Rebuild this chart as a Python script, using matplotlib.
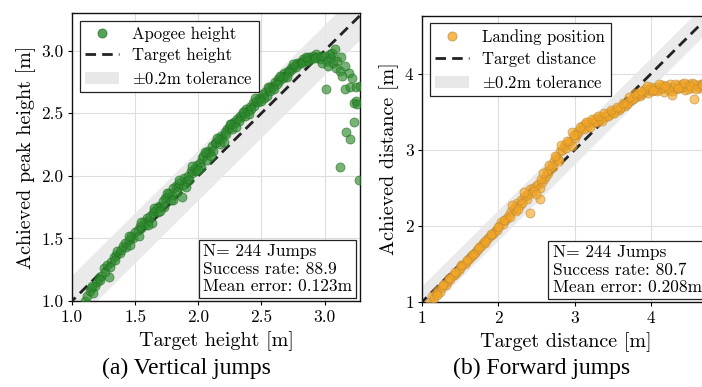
import matplotlib
matplotlib.use("Agg")
import matplotlib.pyplot as plt
from matplotlib.patches import Patch
from matplotlib.lines import Line2D

plt.rcParams['font.family'] = 'serif'
plt.rcParams['font.serif'] = ['cmr10']
plt.rcParams['mathtext.fontset'] = 'cm'
plt.rcParams['axes.formatter.use_mathtext'] = True

# ---------------- Vertical jumps data ----------------
v_target = [
    1.10, 1.12, 1.14, 1.15, 1.17, 1.18, 1.20, 1.21, 1.23, 1.25, 1.26, 1.28, 1.29, 1.31, 1.33, 1.35, 1.36, 1.38, 1.40, 1.42, 1.43, 1.45, 1.47, 1.48, 1.50,
    1.52, 1.54, 1.55, 1.57, 1.59, 1.60, 1.62, 1.64, 1.65, 1.67, 1.69, 1.70, 1.72, 1.74, 1.75, 1.77, 1.79, 1.80, 1.82, 1.84, 1.85, 1.87, 1.89, 1.90, 1.92, 1.94, 1.95, 1.97, 1.99,
    2.01, 2.03, 2.04, 2.06, 2.08, 2.09, 2.11, 2.13, 2.14, 2.16, 2.18, 2.19, 2.21, 2.23, 2.24, 2.26, 2.28, 2.29, 2.31, 2.33, 2.34, 2.36, 2.38, 2.39, 2.41, 2.43, 2.44, 2.46, 2.48, 2.49,
    2.51, 2.53, 2.54, 2.56, 2.58, 2.59, 2.61, 2.63, 2.64, 2.66, 2.68, 2.69, 2.71, 2.73, 2.74, 2.76, 2.78, 2.79, 2.81, 2.83, 2.84, 2.86, 2.88, 2.89, 2.91, 2.93, 2.94,
    2.96, 2.98, 3.00, 3.01, 3.02, 3.03, 3.04, 3.05, 3.06, 3.07, 3.08, 3.09, 3.10, 3.12, 3.12, 3.13, 3.14, 3.16, 3.16, 3.17, 3.19, 3.20, 3.20, 3.22, 3.23, 3.23, 3.25, 3.25, 3.26, 3.27, 3.28,
    1.16, 1.22, 1.30, 1.34, 1.39, 1.46, 1.53, 1.58, 1.63, 1.68, 1.73, 1.78, 1.83, 1.88, 1.93, 1.98, 2.02, 2.07, 2.12, 2.17, 2.22, 2.27, 2.32, 2.37, 2.42, 2.47, 2.52, 2.57, 2.62, 2.67, 2.72, 2.77, 2.82, 2.87, 2.92, 2.97,
    1.45, 1.55, 1.65, 1.75, 1.85, 1.95, 2.05, 2.15, 2.25, 2.35, 2.45, 2.55, 2.65, 2.75, 2.85, 1.60, 1.70, 1.80, 1.90, 2.00, 2.10, 2.20, 2.30, 2.40, 2.50, 2.60, 2.70,
]
v_achieved = [
    1.00, 1.04, 1.08, 1.10, 1.06, 1.12, 1.15, 1.18, 1.20, 1.26, 1.23, 1.29, 1.19, 1.31, 1.35, 1.37, 1.40, 1.38, 1.44, 1.46, 1.43, 1.49, 1.52, 1.50, 1.55,
    1.57, 1.60, 1.58, 1.63, 1.66, 1.64, 1.68, 1.70, 1.72, 1.74, 1.76, 1.75, 1.80, 1.82, 1.83, 1.86, 1.85, 1.90, 1.92, 1.91, 1.94, 1.83, 1.98, 1.96, 2.00, 2.04, 2.02, 2.06, 2.09,
    2.10, 2.14, 2.16, 2.18, 2.20, 2.19, 2.24, 2.26, 2.27, 2.29, 2.32, 2.30, 2.35, 2.37, 2.38, 2.41, 2.43, 2.42, 2.45, 2.48, 2.47, 2.51, 2.53, 2.52, 2.55, 2.58, 2.56, 2.60, 2.62, 2.61,
    2.65, 2.67, 2.64, 2.70, 2.72, 2.71, 2.75, 2.77, 2.76, 2.80, 2.82, 2.80, 2.84, 2.86, 2.85, 2.88, 2.90, 2.89, 2.91, 2.93, 2.92, 2.94, 2.95, 2.93, 2.96, 2.97, 2.95,
    2.93, 2.90, 2.96, 2.69, 2.92, 2.88, 2.97, 2.94, 2.98, 2.90, 3.01, 2.86, 2.92, 2.84, 2.07, 2.95, 2.80, 2.88, 2.69, 2.35, 2.82, 2.71, 2.29, 2.78, 2.58, 2.43, 2.60, 2.71, 2.57, 1.97, 2.72,
    1.12, 1.17, 1.27, 1.33, 1.41, 1.45, 1.52, 1.61, 1.62, 1.71, 1.75, 1.81, 1.87, 1.93, 1.97, 2.04, 2.07, 2.13, 2.20, 2.25, 2.33, 2.37, 2.44, 2.48, 2.53, 2.59, 2.62, 2.68, 2.73, 2.78, 2.83, 2.87, 2.90, 2.92, 2.94, 2.96,
    1.52, 1.63, 1.74, 1.86, 1.97, 2.08, 2.19, 2.30, 2.41, 2.51, 2.62, 2.71, 2.80, 2.89, 2.95, 1.61, 1.72, 1.81, 1.91, 2.05, 2.16, 2.27, 2.39, 2.49, 2.60, 2.69, 2.79,
]

# ---------------- Forward jumps data ----------------
f_target = [
    1.10, 1.13, 1.16, 1.18, 1.21, 1.24, 1.26, 1.29, 1.32, 1.34, 1.37, 1.40, 1.42, 1.45, 1.48, 1.50, 1.53, 1.56, 1.58, 1.61, 1.64, 1.66, 1.69, 1.72, 1.74, 1.77, 1.80, 1.82, 1.85, 1.88, 1.90, 1.93, 1.96, 1.98,
    2.01, 2.04, 2.06, 2.09, 2.12, 2.14, 2.17, 2.20, 2.22, 2.25, 2.28, 2.30, 2.33, 2.36, 2.38, 2.41, 2.42, 2.44, 2.46, 2.49, 2.52, 2.54, 2.55, 2.57, 2.60,
    2.62, 2.65, 2.68, 2.70, 2.73, 2.76, 2.78, 2.81, 2.84, 2.86, 2.89, 2.92, 2.94, 2.97, 3.00, 3.02, 3.05, 3.08, 3.10, 3.13, 3.16, 3.18, 3.21, 3.24, 3.26, 3.29,
    3.32, 3.34, 3.37, 3.40, 3.42, 3.45, 3.48, 3.50, 3.53, 3.56, 3.58, 3.61, 3.64, 3.66, 3.69, 3.72, 3.74, 3.77, 3.80, 3.82, 3.85, 3.88, 3.90,
    3.93, 3.96, 3.98, 4.01, 4.04, 4.06, 4.09, 4.12, 4.14, 4.17, 4.20, 4.22, 4.25, 4.28, 4.30, 4.33, 4.36, 4.38, 4.41, 4.44, 4.46, 4.49, 4.52, 4.54, 4.57, 4.60, 4.62, 4.65, 4.68, 4.70,
    1.19, 1.27, 1.35, 1.43, 1.51, 1.59, 1.67, 1.75, 1.83, 1.91, 1.99, 2.07, 2.15, 2.23, 2.31, 2.39, 2.47, 2.56, 2.64, 2.72, 2.80, 2.88, 2.96, 3.04, 3.12, 3.20, 3.28, 3.36, 3.44, 3.52, 3.60, 3.68, 3.76, 3.84, 3.92, 4.00, 4.08, 4.16, 4.24, 4.32, 4.40, 4.48, 4.56, 4.64, 4.72,
    2.58, 2.66, 2.74, 2.82, 2.90, 2.99, 3.07, 3.15, 3.23, 3.31, 3.39, 3.47, 3.55, 3.63, 3.71, 3.79, 3.87, 3.95, 4.03, 4.11, 4.19, 4.27, 4.35, 4.43, 4.51, 4.59, 4.67, 2.18, 2.26, 2.34, 2.50,
]
f_achieved = [
    1.00, 1.08, 1.05, 1.12, 1.16, 1.13, 1.20, 1.24, 1.22, 1.27, 1.30, 1.35, 1.36, 1.38, 1.42, 1.45, 1.48, 1.50, 1.52, 1.57, 1.60, 1.61, 1.64, 1.68, 1.70, 1.73, 1.77, 1.78, 1.83, 1.86, 1.88, 1.90, 1.93, 1.95,
    2.00, 2.05, 2.03, 2.08, 2.10, 2.15, 2.20, 2.22, 2.25, 2.30, 2.27, 2.34, 2.38, 2.40, 2.35, 2.48, 2.17, 2.45, 2.50, 2.52, 2.55, 2.50, 2.35, 2.58, 2.62,
    2.66, 2.70, 2.75, 2.80, 2.85, 2.90, 2.88, 2.98, 3.00, 3.05, 3.08, 3.10, 3.12, 3.23, 3.15, 3.20, 3.22, 3.28, 3.32, 3.34, 3.30, 3.36, 3.35, 3.38, 3.40, 3.37,
    3.42, 3.40, 3.45, 3.43, 3.47, 3.46, 3.50, 3.49, 3.52, 3.54, 3.53, 3.57, 3.60, 3.58, 3.62, 3.64, 3.66, 3.68, 3.70, 3.72, 3.71, 3.74, 3.76,
    3.78, 3.75, 3.80, 3.77, 3.82, 3.79, 3.83, 3.80, 3.85, 3.76, 3.84, 3.81, 3.86, 3.78, 3.83, 3.80, 3.85, 3.82, 3.87, 3.79, 3.84, 3.86, 3.81, 3.88, 3.67, 3.85, 3.83, 3.87, 3.84, 3.88,
    1.09, 1.22, 1.31, 1.40, 1.48, 1.55, 1.63, 1.72, 1.80, 1.89, 1.98, 2.08, 2.12, 2.20, 2.30, 2.42, 2.46, 2.62, 2.72, 2.78, 2.85, 3.02, 3.05, 3.25, 3.28, 3.30, 3.36, 3.38, 3.44, 3.48, 3.55, 3.60, 3.67, 3.74, 3.80, 3.83, 3.78, 3.82, 3.79, 3.86, 3.83, 3.80, 3.86, 3.82, 3.86,
    2.70, 2.80, 2.92, 3.07, 3.12, 3.20, 3.30, 3.36, 3.40, 3.45, 3.48, 3.52, 3.57, 3.62, 3.70, 3.75, 3.78, 3.84, 3.79, 3.86, 3.84, 3.72, 3.82, 3.88, 3.84, 3.80, 3.85, 2.28, 2.22, 2.45, 2.42,
]

panels = [
    dict(x=v_target, y=v_achieved, xlim=(1.0, 3.28), ylim=(1.0, 3.3),
         ticks=[1.0, 1.5, 2.0, 2.5, 3.0], tl=['1.0', '1.5', '2.0', '2.5', '3.0'],
         color='#2e8b2e', edge='#1f6f1f', label='Apogee height', line='Target height',
         xlabel='Target height [m]', ylabel='Achieved peak height [m]',
         stats='N= 244 Jumps\nSuccess rate: 88.9\nMean error: 0.123m',
         caption='(a) Vertical jumps', pos=[72/702, 1-301/387, 288/702, 288/387], capx=0.265),
    dict(x=f_target, y=f_achieved, xlim=(1.0, 4.76), ylim=(1.0, 4.76),
         ticks=[1, 2, 3, 4], tl=['1', '2', '3', '4'],
         color='#f5a623', edge='#b98a3a', label='Landing position', line='Target distance',
         xlabel='Target distance [m]', ylabel='Achieved distance [m]',
         stats='N= 244 Jumps\nSuccess rate: 80.7\nMean error: 0.208m',
         caption='(b) Forward jumps', pos=[422/702, 1-302/387, 287/702, 286/387], capx=0.771),
]

fig = plt.figure(figsize=(7.02, 3.87), dpi=100)
for p in panels:
    ax = fig.add_axes(p['pos'])
    lo, hi = p['xlim']
    xs = [lo - 0.5, hi + 0.5]
    ax.fill_between(xs, [v - 0.2 for v in xs], [v + 0.2 for v in xs],
                    color='#e8e8e8', alpha=0.9, lw=0, zorder=1)
    ax.plot(xs, xs, color='#222222', lw=2.0, ls=(0, (3.8, 2.2)), zorder=3)
    ax.scatter(p['x'], p['y'], s=42, color=p['color'], alpha=0.65,
               edgecolors=p['edge'], linewidths=0.6, zorder=4)
    ax.set_xlim(*p['xlim'])
    ax.set_ylim(*p['ylim'])
    ax.set_xticks(p['ticks'])
    ax.set_xticklabels(p['tl'])
    ax.set_yticks(p['ticks'])
    ax.set_yticklabels(p['tl'])
    ax.grid(True, color='#dddddd', lw=0.8, zorder=0)
    ax.set_axisbelow(True)
    ax.tick_params(labelsize=12.5, length=3, width=0.8, direction='out', pad=3)
    for s in ax.spines.values():
        s.set_color('#111111')
        s.set_linewidth(1.0)
    ax.set_xlabel(p['xlabel'], fontsize=14.5, labelpad=5)
    ax.set_ylabel(p['ylabel'], fontsize=14.5, labelpad=4)
    handles = [
        Line2D([], [], marker='o', ls='none', markersize=6.5, markerfacecolor=p['color'],
               markeredgecolor=p['edge'], markeredgewidth=0.6, alpha=0.8),
        Line2D([], [], color='#222222', lw=2.0, ls=(0, (3.8, 2.2))),
        Patch(facecolor='#e8e8e8', edgecolor='none'),
    ]
    leg = ax.legend(handles, [p['label'], p['line'], r'$\pm$0.2m tolerance'],
                    loc='upper left', fontsize=12, fancybox=False, framealpha=1,
                    edgecolor='#222222', borderpad=0.35, handlelength=2.0,
                    labelspacing=0.38, borderaxespad=0.45)
    leg.get_frame().set_linewidth(0.9)
    ax.text(0.455, 0.025, p['stats'], transform=ax.transAxes, ha='left', va='bottom',
            fontsize=12.5, linespacing=1.15, zorder=6, multialignment='left',
            bbox=dict(boxstyle='square,pad=0.25', facecolor='white', edgecolor='#222222', lw=0.9))
    fig.text(p['capx'], 0.048, p['caption'], ha='center', va='center', fontsize=17,
             family='Liberation Serif')

fig.savefig('out.png', dpi=100)
